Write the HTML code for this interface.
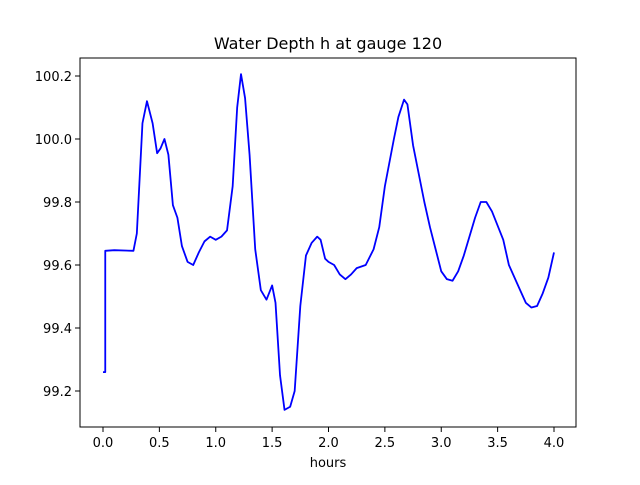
<!DOCTYPE html>
<html><head><meta charset="utf-8"><style>
body{margin:0;background:#fff;font-family:"Liberation Sans","DejaVu Sans",sans-serif}
svg text{font-family:"DejaVu Sans","Liberation Sans",sans-serif}
</style></head><body>
<svg id="chart" width="640" height="480" xmlns="http://www.w3.org/2000/svg">
<rect x="0" y="0" width="640" height="480" fill="#fff"/>
<text x="328" y="49" font-size="16" text-anchor="middle" fill="#000">Water Depth h at gauge 120</text>
<g id="plot"></g>
<rect x="80" y="58" width="496" height="369" fill="none" stroke="#000" stroke-width="1"/>
<text x="328" y="467" font-size="13" text-anchor="middle">hours</text>
</svg>
<script>
const times=[0.0,0.02,0.02,0.1,0.27,0.3,0.35,0.39,0.44,0.48,0.51,0.545,0.58,0.62,0.66,0.7,0.75,0.8,0.85,0.9,0.95,1.0,1.05,1.1,1.15,1.19,1.224,1.26,1.3,1.35,1.4,1.45,1.5,1.53,1.57,1.61,1.66,1.7,1.75,1.8,1.85,1.9,1.93,1.97,2.0,2.05,2.1,2.15,2.2,2.25,2.33,2.4,2.45,2.5,2.58,2.62,2.67,2.7,2.75,2.85,2.9,2.95,3.0,3.05,3.1,3.15,3.2,3.3,3.35,3.4,3.45,3.55,3.6,3.7,3.75,3.8,3.85,3.9,3.95,4.0];
const depths=[99.26,99.26,99.645,99.647,99.645,99.7,100.05,100.12,100.05,99.955,99.97,100.0,99.95,99.79,99.75,99.66,99.61,99.60,99.64,99.675,99.69,99.68,99.69,99.71,99.85,100.1,100.206,100.13,99.95,99.65,99.52,99.49,99.535,99.48,99.25,99.14,99.15,99.2,99.47,99.63,99.67,99.69,99.68,99.62,99.61,99.6,99.57,99.555,99.57,99.59,99.60,99.65,99.72,99.85,100.0,100.07,100.125,100.11,99.98,99.8,99.72,99.65,99.58,99.555,99.55,99.58,99.63,99.75,99.80,99.80,99.77,99.68,99.60,99.52,99.48,99.465,99.47,99.51,99.56,99.64];
const xTicks=[0.0,0.5,1.0,1.5,2.0,2.5,3.0,3.5,4.0];
const yTicks=[99.2,99.4,99.6,99.8,100.0,100.2];
const xs=t=>103+t*112.75;
const ys=h=>391-(h-99.2)*315;
const NS="http://www.w3.org/2000/svg";
const g=document.getElementById('plot');
xTicks.forEach(t=>{
  const l=document.createElementNS(NS,'line');
  l.setAttribute('x1',xs(t));l.setAttribute('x2',xs(t));l.setAttribute('y1',427);l.setAttribute('y2',432);l.setAttribute('stroke','#000');
  
  
  g.appendChild(l);
  const tx=document.createElementNS(NS,'text');
  tx.setAttribute('x',xs(t));tx.setAttribute('y',447);tx.setAttribute('font-size','13');tx.setAttribute('text-anchor','middle');
  tx.textContent=t.toFixed(1);
  
  
  g.appendChild(tx);
});
yTicks.forEach(h=>{
  const l=document.createElementNS(NS,'line');
  l.setAttribute('x1',75);l.setAttribute('x2',80);l.setAttribute('y1',ys(h));l.setAttribute('y2',ys(h));l.setAttribute('stroke','#000');
  
  
  g.appendChild(l);
  const tx=document.createElementNS(NS,'text');
  tx.setAttribute('x',72);tx.setAttribute('y',ys(h)+5);tx.setAttribute('font-size','13');tx.setAttribute('text-anchor','end');
  tx.textContent=h.toFixed(1);
  
  
  g.appendChild(tx);
});
const p=document.createElementNS(NS,'polyline');
p.setAttribute('points',times.map((t,i)=>xs(t)+','+ys(depths[i])).join(' '));
p.setAttribute('fill','none');p.setAttribute('stroke','#0000ff');p.setAttribute('stroke-width','1.8');p.setAttribute('stroke-linejoin','round');


g.appendChild(p);
</script>
</body></html>
